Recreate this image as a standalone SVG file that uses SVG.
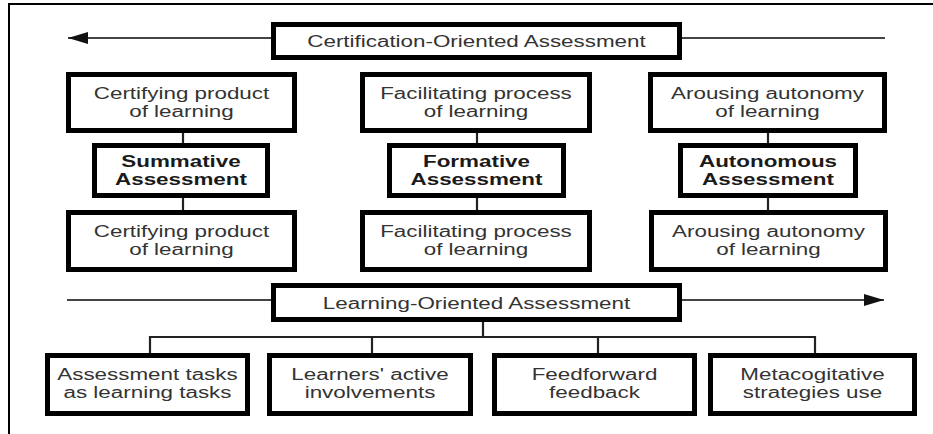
<svg xmlns="http://www.w3.org/2000/svg" width="933" height="434" viewBox="0 0 933 434">
  <style>
    .box { fill: #ffffff; stroke: #000000; stroke-width: 5; }
    .t { font-family: "Liberation Sans", Arial, sans-serif; font-size: 16px; fill: #333333; text-anchor: middle; }
    .b { font-weight: bold; fill: #1a1a1a; }
    .link { stroke: #222222; stroke-width: 2.2; fill: none; }
    .axis { stroke: #444444; stroke-width: 1.8; fill: none; }
    .frame { stroke: #000000; stroke-width: 2; fill: none; }
  </style>
  <defs>
    <marker id="arrow" viewBox="0 0 20 12" refX="20" refY="6" markerWidth="20" markerHeight="12" markerUnits="userSpaceOnUse" orient="auto">
      <path d="M0,0 L20,6 L0,12 Z" fill="#111111"/>
    </marker>
  </defs>

  <rect x="0" y="0" width="933" height="434" fill="#ffffff"/>
  <path class="frame" d="M9,434 V4 H933"/>

  <!-- connectors -->
  <g id="connectors">
    <line class="axis" x1="271" y1="38" x2="68" y2="38" marker-end="url(#arrow)"/>
    <line class="axis" x1="682" y1="38" x2="885" y2="38"/>
    <line class="axis" x1="67" y1="300" x2="271" y2="300"/>
    <line class="axis" x1="682" y1="300" x2="884" y2="300" marker-end="url(#arrow)"/>

    <line class="link" x1="183" y1="132" x2="183" y2="143"/>
    <line class="link" x1="183" y1="198" x2="183" y2="210"/>
    <line class="link" x1="477" y1="132" x2="477" y2="143"/>
    <line class="link" x1="477" y1="198" x2="477" y2="210"/>
    <line class="link" x1="768" y1="132" x2="768" y2="143"/>
    <line class="link" x1="768" y1="198" x2="768" y2="210"/>

    <path class="link" d="M483,322 V337 M150,353 V337 H815 V353 M372,337 V353 M598,337 V353"/>
  </g>

  <!-- top band -->
  <g id="certification">
    <rect class="box" x="273.5" y="24.5" width="406" height="33"/>
    <text class="t" transform="translate(476.5,46.5) scale(1.4,1)">Certification-Oriented Assessment</text>
  </g>

  <!-- upper row -->
  <g id="certifying-top">
    <rect class="box" x="68.5" y="74.5" width="226" height="56"/>
    <text class="t" transform="translate(181.5,99) scale(1.4,1)"><tspan x="0">Certifying product</tspan><tspan x="0" dy="18">of learning</tspan></text>
  </g>
  <g id="facilitating-top">
    <rect class="box" x="362.5" y="74.5" width="227" height="56"/>
    <text class="t" transform="translate(476,99) scale(1.4,1)"><tspan x="0">Facilitating process</tspan><tspan x="0" dy="18">of learning</tspan></text>
  </g>
  <g id="arousing-top">
    <rect class="box" x="650.5" y="74.5" width="234" height="56"/>
    <text class="t" transform="translate(767.5,99) scale(1.4,1)"><tspan x="0">Arousing autonomy</tspan><tspan x="0" dy="18">of learning</tspan></text>
  </g>

  <!-- assessment types -->
  <g id="summative">
    <rect class="box" x="94.5" y="145.5" width="173" height="50"/>
    <text class="t b" transform="translate(181,167) scale(1.4,1)"><tspan x="0">Summative</tspan><tspan x="0" dy="18">Assessment</tspan></text>
  </g>
  <g id="formative">
    <rect class="box" x="389.5" y="145.5" width="174" height="50"/>
    <text class="t b" transform="translate(476.5,167) scale(1.4,1)"><tspan x="0">Formative</tspan><tspan x="0" dy="18">Assessment</tspan></text>
  </g>
  <g id="autonomous">
    <rect class="box" x="680.5" y="145.5" width="175" height="50"/>
    <text class="t b" transform="translate(768,167) scale(1.4,1)"><tspan x="0">Autonomous</tspan><tspan x="0" dy="18">Assessment</tspan></text>
  </g>

  <!-- lower row -->
  <g id="certifying-bottom">
    <rect class="box" x="68.5" y="212.5" width="226" height="57"/>
    <text class="t" transform="translate(181.5,237) scale(1.4,1)"><tspan x="0">Certifying product</tspan><tspan x="0" dy="18.5">of learning</tspan></text>
  </g>
  <g id="facilitating-bottom">
    <rect class="box" x="362.5" y="212.5" width="227" height="57"/>
    <text class="t" transform="translate(476,237) scale(1.4,1)"><tspan x="0">Facilitating process</tspan><tspan x="0" dy="18.5">of learning</tspan></text>
  </g>
  <g id="arousing-bottom">
    <rect class="box" x="651.5" y="212.5" width="234" height="57"/>
    <text class="t" transform="translate(768.5,237) scale(1.4,1)"><tspan x="0">Arousing autonomy</tspan><tspan x="0" dy="18.5">of learning</tspan></text>
  </g>

  <!-- bottom band -->
  <g id="learning">
    <rect class="box" x="273.5" y="285.5" width="406" height="34"/>
    <text class="t" transform="translate(476.5,308.5) scale(1.4,1)">Learning-Oriented Assessment</text>
  </g>

  <g id="tasks">
    <rect class="box" x="47.5" y="355.5" width="200" height="58"/>
    <text class="t" transform="translate(147.5,380) scale(1.4,1)"><tspan x="0">Assessment tasks</tspan><tspan x="0" dy="18">as learning tasks</tspan></text>
  </g>
  <g id="involvement">
    <rect class="box" x="269.5" y="355.5" width="201" height="58"/>
    <text class="t" transform="translate(370,380) scale(1.4,1)"><tspan x="0">Learners' active</tspan><tspan x="0" dy="18">involvements</tspan></text>
  </g>
  <g id="feedforward">
    <rect class="box" x="494.5" y="355.5" width="200" height="58"/>
    <text class="t" transform="translate(594.5,380) scale(1.4,1)"><tspan x="0">Feedforward</tspan><tspan x="0" dy="18">feedback</tspan></text>
  </g>
  <g id="metacognitive">
    <rect class="box" x="710.5" y="355.5" width="204" height="58"/>
    <text class="t" transform="translate(812.5,380) scale(1.4,1)"><tspan x="0">Metacogitative</tspan><tspan x="0" dy="18">strategies use</tspan></text>
  </g>
</svg>
